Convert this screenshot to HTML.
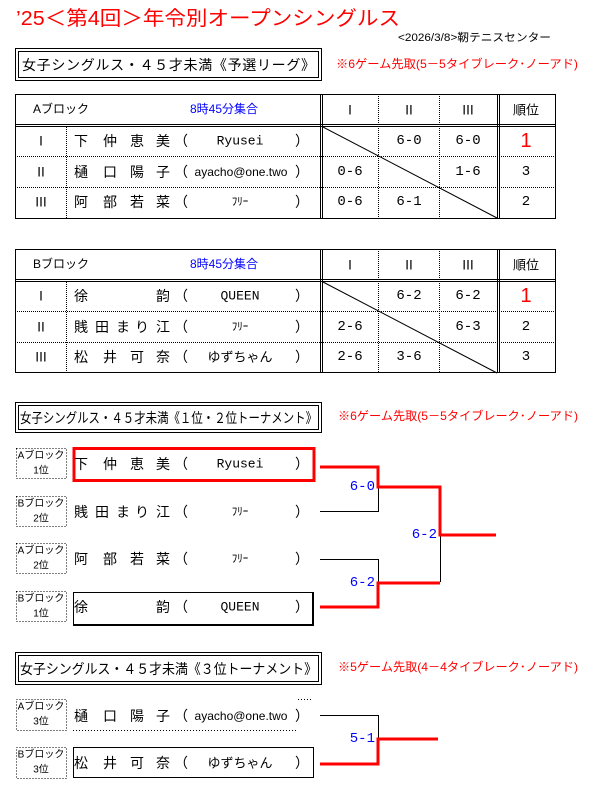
<!DOCTYPE html>
<html><head><meta charset="utf-8"><style>
html,body{margin:0;padding:0;background:#fff;width:601px;height:806px;overflow:hidden}
svg{display:block}
text{font-family:"Liberation Sans","Noto Sans CJK JP",sans-serif;fill:#000;dominant-baseline:central}
.mo{font-family:"Liberation Mono","Noto Sans CJK JP",monospace}
.m{text-anchor:middle}
.r{fill:#f00}
.b{fill:#00f}
</style></head><body>
<svg width="601" height="806" viewBox="0 0 601 806" xmlns="http://www.w3.org/2000/svg">
<text x="16" y="19" font-size="20" class="r" textLength="384" lengthAdjust="spacingAndGlyphs">’25＜第4回＞年令別オープンシングルス</text>
<text x="398" y="38" font-size="11" textLength="153" lengthAdjust="spacingAndGlyphs">&lt;2026/3/8&gt;靭テニスセンター</text>

<rect x="15.5" y="48.5" width="306" height="32" fill="none" stroke="#000"/>
<rect x="18.5" y="51.5" width="300" height="26" fill="none" stroke="#000"/>
<text x="22" y="65" font-size="14" textLength="293" lengthAdjust="spacing">女子シングルス・４５才未満《予選リーグ》</text>
<text x="336" y="64" font-size="12" class="r" textLength="242" lengthAdjust="spacingAndGlyphs">※6ゲーム先取(5－5タイブレーク･ノーアド)</text>

<g stroke="#000" fill="none">
<rect x="15.5" y="94.5" width="540" height="124"/>
<line x1="15" y1="124.5" x2="556" y2="124.5"/><line x1="15" y1="126.5" x2="556" y2="126.5"/>
<line x1="320.5" y1="94" x2="320.5" y2="218"/><line x1="322.5" y1="94" x2="322.5" y2="218"/>
<line x1="497.5" y1="94" x2="497.5" y2="218"/><line x1="499.5" y1="94" x2="499.5" y2="218"/>
<g stroke-dasharray="1,1">
<line x1="66.5" y1="127" x2="66.5" y2="218"/>
<line x1="378.5" y1="94" x2="378.5" y2="218"/><line x1="439.5" y1="94" x2="439.5" y2="218"/>
<line x1="15" y1="156.5" x2="556" y2="156.5"/><line x1="15" y1="187.5" x2="556" y2="187.5"/>
</g>
<line x1="323" y1="127" x2="497" y2="218"/>
</g>
<text x="33" y="109" font-size="12">Aブロック</text>
<text x="224" y="109" font-size="12" class="b m">8時45分集合</text>
<text x="350" y="110" font-size="13" class="m">Ⅰ</text><text x="409" y="110" font-size="13" class="m">Ⅱ</text><text x="468" y="110" font-size="13" class="m">Ⅲ</text><text x="526" y="110" font-size="13" class="m">順位</text>
<g font-size="13">
<text x="41" y="141" class="m">Ⅰ</text><text x="41" y="172" class="m">Ⅱ</text><text x="41" y="202" class="m">Ⅲ</text>
</g>
<g font-size="14">
<text x="81" y="141" class="m">下</text><text x="110" y="141" class="m">仲</text><text x="137" y="141" class="m">恵</text><text x="163" y="141" class="m">美</text><text x="181" y="141" class="m">（</text><text x="240" y="141" class="m mo" font-size="13">Ryusei</text><text x="302" y="141" class="m">）</text>
<text x="81" y="172" class="m">樋</text><text x="110" y="172" class="m">口</text><text x="137" y="172" class="m">陽</text><text x="163" y="172" class="m">子</text><text x="181" y="172" class="m">（</text><text x="241" y="172" class="m" font-size="12">ayacho@one.two</text><text x="302" y="172" class="m">）</text>
<text x="81" y="202" class="m">阿</text><text x="110" y="202" class="m">部</text><text x="137" y="202" class="m">若</text><text x="163" y="202" class="m">菜</text><text x="181" y="202" class="m">（</text><text x="240" y="202" class="m" font-size="11">ﾌﾘｰ</text><text x="302" y="202" class="m">）</text>
</g>
<g font-size="14">
<text x="409" y="141" class="m mo">6-0</text><text x="468" y="141" class="m mo">6-0</text><text x="526" y="141" class="m r" font-size="20">1</text>
<text x="350" y="172" class="m mo">0-6</text><text x="468" y="172" class="m mo">1-6</text><text x="526" y="172" class="m mo">3</text>
<text x="350" y="202" class="m mo">0-6</text><text x="409" y="202" class="m mo">6-1</text><text x="526" y="202" class="m mo">2</text>
</g>

<g stroke="#000" fill="none">
<rect x="15.5" y="249.5" width="540" height="123"/>
<line x1="15" y1="279.5" x2="556" y2="279.5"/><line x1="15" y1="281.5" x2="556" y2="281.5"/>
<line x1="320.5" y1="249" x2="320.5" y2="373"/><line x1="322.5" y1="249" x2="322.5" y2="373"/>
<line x1="497.5" y1="249" x2="497.5" y2="373"/><line x1="499.5" y1="249" x2="499.5" y2="373"/>
<g stroke-dasharray="1,1">
<line x1="66.5" y1="282" x2="66.5" y2="373"/>
<line x1="378.5" y1="249" x2="378.5" y2="373"/><line x1="439.5" y1="249" x2="439.5" y2="373"/>
<line x1="15" y1="311.5" x2="556" y2="311.5"/><line x1="15" y1="342.5" x2="556" y2="342.5"/>
</g>
<line x1="323" y1="282" x2="497" y2="373"/>
</g>
<text x="33" y="264" font-size="12">Bブロック</text>
<text x="224" y="264" font-size="12" class="b m">8時45分集合</text>
<text x="350" y="265" font-size="13" class="m">Ⅰ</text><text x="409" y="265" font-size="13" class="m">Ⅱ</text><text x="468" y="265" font-size="13" class="m">Ⅲ</text><text x="526" y="265" font-size="13" class="m">順位</text>
<g font-size="13">
<text x="41" y="296" class="m">Ⅰ</text><text x="41" y="327" class="m">Ⅱ</text><text x="41" y="357" class="m">Ⅲ</text>
</g>
<g font-size="14">
<text x="81" y="296" class="m">徐</text><text x="163" y="296" class="m">韵</text><text x="181" y="296" class="m">（</text><text x="240" y="296" class="m mo" font-size="13">QUEEN</text><text x="302" y="296" class="m">）</text>
<text x="81" y="327" class="m">賎</text><text x="102" y="327" class="m">田</text><text x="123" y="327" class="m">ま</text><text x="142" y="327" class="m">り</text><text x="163" y="327" class="m">江</text><text x="181" y="327" class="m">（</text><text x="240" y="327" class="m" font-size="11">ﾌﾘｰ</text><text x="302" y="327" class="m">）</text>
<text x="81" y="357" class="m">松</text><text x="110" y="357" class="m">井</text><text x="137" y="357" class="m">可</text><text x="163" y="357" class="m">奈</text><text x="181" y="357" class="m">（</text><text x="240" y="357" class="m" font-size="13">ゆずちゃん</text><text x="302" y="357" class="m">）</text>
</g>
<g font-size="14">
<text x="409" y="296" class="m mo">6-2</text><text x="468" y="296" class="m mo">6-2</text><text x="526" y="296" class="m r" font-size="20">1</text>
<text x="350" y="327" class="m mo">2-6</text><text x="468" y="327" class="m mo">6-3</text><text x="526" y="327" class="m mo">2</text>
<text x="350" y="357" class="m mo">2-6</text><text x="409" y="357" class="m mo">3-6</text><text x="526" y="357" class="m mo">3</text>
</g>

<rect x="15.5" y="402.5" width="306" height="30" fill="none" stroke="#000"/>
<rect x="18.5" y="405.5" width="300" height="24" fill="none" stroke="#000"/>
<text x="20" y="418" font-size="14" textLength="297" lengthAdjust="spacingAndGlyphs">女子シングルス・４５才未満《１位・２位トーナメント》</text>
<text x="338" y="416" font-size="12" class="r" textLength="240" lengthAdjust="spacingAndGlyphs">※6ゲーム先取(5－5タイブレーク･ノーアド)</text>

<g fill="none" stroke="#000" stroke-dasharray="1,2">
<rect x="16.5" y="448.5" width="50" height="30"/>
<rect x="16.5" y="496.5" width="50" height="30"/>
<rect x="16.5" y="543.5" width="50" height="30"/>
<rect x="16.5" y="591.5" width="50" height="30"/>
<rect x="16.5" y="699.5" width="50" height="31"/>
<rect x="16.5" y="747.5" width="50" height="31"/>
<line x1="73" y1="730.5" x2="298" y2="730.5"/><line x1="298" y1="699.5" x2="312" y2="699.5"/>
</g>
<g font-size="10">
<text x="41" y="456" class="m">Aブロック</text><text x="41" y="471" class="m">1位</text>
<text x="41" y="504" class="m">Bブロック</text><text x="41" y="519" class="m">2位</text>
<text x="41" y="551" class="m">Aブロック</text><text x="41" y="566" class="m">2位</text>
<text x="41" y="599" class="m">Bブロック</text><text x="41" y="614" class="m">1位</text>
<text x="41" y="707" class="m">Aブロック</text><text x="41" y="722" class="m">3位</text>
<text x="41" y="755" class="m">Bブロック</text><text x="41" y="770" class="m">3位</text>
</g>
<rect x="74" y="448.5" width="240" height="32" fill="none" stroke="#f00" stroke-width="3"/>
<rect x="73.5" y="592.5" width="239" height="32" fill="none" stroke="#000" stroke-width="1"/>
<line x1="313" y1="592" x2="313" y2="626" stroke="#000" stroke-width="2"/>
<line x1="73" y1="625" x2="314" y2="625" stroke="#000" stroke-width="2"/>
<rect x="73.5" y="747.5" width="240" height="30" fill="none" stroke="#000"/>

<g font-size="14">
<text x="81" y="464" class="m">下</text><text x="110" y="464" class="m">仲</text><text x="137" y="464" class="m">恵</text><text x="163" y="464" class="m">美</text><text x="181" y="464" class="m">（</text><text x="240" y="464" class="m mo" font-size="13">Ryusei</text><text x="302" y="464" class="m">）</text>
<text x="81" y="512" class="m">賎</text><text x="102" y="512" class="m">田</text><text x="123" y="512" class="m">ま</text><text x="142" y="512" class="m">り</text><text x="163" y="512" class="m">江</text><text x="181" y="512" class="m">（</text><text x="240" y="512" class="m" font-size="11">ﾌﾘｰ</text><text x="302" y="512" class="m">）</text>
<text x="81" y="559" class="m">阿</text><text x="110" y="559" class="m">部</text><text x="137" y="559" class="m">若</text><text x="163" y="559" class="m">菜</text><text x="181" y="559" class="m">（</text><text x="240" y="559" class="m" font-size="11">ﾌﾘｰ</text><text x="302" y="559" class="m">）</text>
<text x="81" y="607" class="m">徐</text><text x="163" y="607" class="m">韵</text><text x="181" y="607" class="m">（</text><text x="240" y="607" class="m mo" font-size="13">QUEEN</text><text x="302" y="607" class="m">）</text>
<text x="81" y="716" class="m">樋</text><text x="110" y="716" class="m">口</text><text x="137" y="716" class="m">陽</text><text x="163" y="716" class="m">子</text><text x="181" y="716" class="m">（</text><text x="241" y="716" class="m" font-size="12">ayacho@one.two</text><text x="302" y="716" class="m">）</text>
<text x="81" y="763" class="m">松</text><text x="110" y="763" class="m">井</text><text x="137" y="763" class="m">可</text><text x="163" y="763" class="m">奈</text><text x="181" y="763" class="m">（</text><text x="240" y="763" class="m" font-size="13">ゆずちゃん</text><text x="302" y="763" class="m">）</text>
</g>

<g fill="none" stroke="#000" stroke-width="1">
<polyline points="320,511.5 378.5,511.5 378.5,487"/>
<polyline points="320,559.5 378.5,559.5 378.5,583"/>
<line x1="440.5" y1="535" x2="440.5" y2="582"/>
<polyline points="320,715.5 378.5,715.5 378.5,739"/>
</g>
<g fill="none" stroke="#f00" stroke-width="3">
<polyline points="320,467 378,467 378,487 440,487 440,535 496,535"/>
<polyline points="320,607 378,607 378,583 440,583"/>
<polyline points="320,764 378,764 378,739 438,739"/>
</g>
<g font-size="14">
<text x="375" y="487" class="b mo" text-anchor="end">6-0</text>
<text x="437" y="535" class="b mo" text-anchor="end">6-2</text>
<text x="375" y="583" class="b mo" text-anchor="end">6-2</text>
<text x="375" y="739" class="b mo" text-anchor="end">5-1</text>
</g>

<rect x="15.5" y="652.5" width="306" height="32" fill="none" stroke="#000"/>
<rect x="18.5" y="655.5" width="300" height="26" fill="none" stroke="#000"/>
<text x="20" y="669" font-size="14" textLength="297" lengthAdjust="spacingAndGlyphs">女子シングルス・４５才未満《３位トーナメント》</text>
<text x="338" y="667" font-size="12" class="r" textLength="240" lengthAdjust="spacingAndGlyphs">※5ゲーム先取(4－4タイブレーク･ノーアド)</text>
</svg>
</body></html>
